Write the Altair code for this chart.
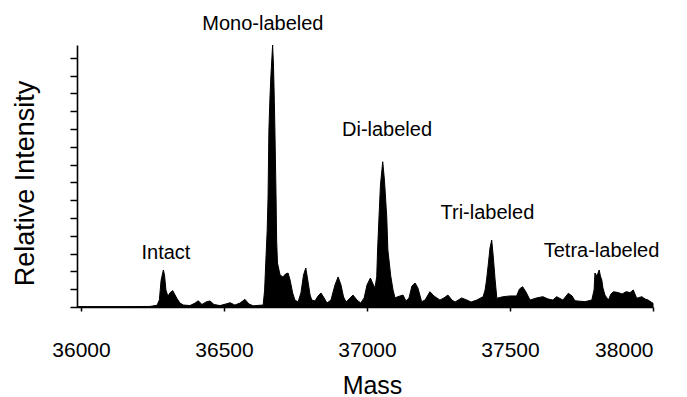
import altair as alt
import pandas as pd

# Spectrum: mass (Da) and relative intensity (tick units)
mass = [35986, 36136, 36241, 36266, 36274, 36280, 36288, 36292, 36297, 36304,
        36311, 36321, 36327, 36335, 36346, 36358, 36381, 36399, 36410, 36423,
        36437, 36451, 36465, 36486, 36507, 36521, 36538, 36556, 36573, 36587,
        36602, 36637, 36642, 36646, 36651, 36654, 36657, 36661, 36664, 36670,
        36673, 36676, 36678, 36682, 36684, 36687, 36696, 36706, 36715, 36724,
        36731, 36740, 36748, 36759, 36769, 36778, 36786, 36794, 36801, 36807,
        36818, 36829, 36839, 36850, 36860, 36874, 36888, 36899, 36909, 36918,
        36927, 36941, 36951, 36965, 36978, 36990, 37000, 37012, 37021, 37028,
        37034, 37037, 37042, 37047, 37055, 37061, 37069, 37073, 37083, 37091,
        37098, 37108, 37126, 37136, 37147, 37157, 37168, 37178, 37191, 37203,
        37220, 37234, 37255, 37269, 37283, 37297, 37308, 37331, 37349, 37364,
        37384, 37406, 37413, 37418, 37425, 37430, 37436, 37441, 37448, 37454,
        37476, 37500, 37523, 37533, 37544, 37556, 37570, 37593, 37615, 37633,
        37650, 37663, 37685, 37704, 37717, 37727, 37762, 37786, 37794, 37797,
        37804, 37812, 37816, 37821, 37825, 37832, 37844, 37853, 37862, 37878,
        37892, 37906, 37920, 37931, 37943, 37961, 37972, 37983, 37993, 38000]
intensity = [0.02, 0.02, 0.03, 0.10, 0.40, 1.50, 2.08, 1.80, 0.95, 0.60,
             0.80, 0.92, 0.73, 0.49, 0.22, 0.11, 0.08, 0.22, 0.35, 0.14,
             0.28, 0.34, 0.14, 0.08, 0.17, 0.24, 0.11, 0.22, 0.43, 0.17,
             0.07, 0.11, 0.95, 2.47, 4.33, 6.18, 9.94, 11.90, 13.00, 14.72,
             13.60, 11.60, 9.94, 6.18, 3.76, 2.47, 1.80, 1.69, 1.85, 1.91,
             1.52, 0.79, 0.39, 0.28, 0.79, 1.80, 2.19, 1.40, 0.67, 0.39,
             0.34, 0.62, 0.79, 0.51, 0.22, 0.39, 1.24, 1.69, 1.24, 0.56,
             0.28, 0.51, 0.67, 0.39, 0.22, 0.51, 1.24, 1.63, 1.29, 1.07,
             1.70, 3.20, 5.06, 6.85, 8.16, 7.13, 5.06, 3.20, 1.74, 0.96,
             0.51, 0.58, 0.67, 0.34, 0.51, 1.18, 1.35, 1.07, 0.30, 0.39,
             0.86, 0.62, 0.39, 0.51, 0.67, 0.39, 0.28, 0.51, 0.39, 0.28,
             0.39, 0.58, 0.96, 1.52, 2.53, 3.31, 3.76, 2.92, 1.52, 0.49,
             0.58, 0.62, 0.62, 1.01, 1.14, 0.84, 0.39, 0.51, 0.58, 0.45,
             0.39, 0.58, 0.39, 0.77, 0.62, 0.35, 0.30, 0.39, 0.96, 1.91,
             1.74, 2.08, 1.74, 1.52, 1.07, 0.67, 0.39, 0.73, 0.86, 0.81,
             0.73, 0.86, 0.81, 0.96, 0.49, 0.58, 0.45, 0.39, 0.28, 0.21]

# Peak annotations
label_text = ["Intact", "Mono-labeled", "Di-labeled", "Tri-labeled", "Tetra-labeled"]
label_mass = [36297, 36636, 37070, 37421, 37820]
label_level = [2.72, 15.56, 9.62, 4.92, 2.80]

x_ticks = [36000, 36500, 37000, 37500, 38000]
y_ticks = [float(v) for v in range(0, 15)]

spec = pd.DataFrame({"mass": mass, "intensity": intensity})
labels = pd.DataFrame({"text": label_text, "mass": label_mass, "level": label_level})

xscale = alt.Scale(domain=[35986, 38000], nice=False, zero=False)
yscale = alt.Scale(domain=[0, 14.72], nice=False)

xaxis = alt.Axis(
    values=x_ticks, format="d", title="Mass", grid=False,
    tickSize=4, labelPadding=28, labelFontSize=21, labelFont="Liberation Sans",
    labelColor="black", domainColor="black", tickColor="black",
    domainWidth=1.6, tickWidth=1.5,
    titleFont="Liberation Sans", titleFontSize=25, titleFontWeight="normal",
    titleColor="black", titleX=295, titleY=86, titleAlign="center",
    titleBaseline="alphabetic")
yaxis = alt.Axis(
    values=y_ticks, labels=False, title="Relative Intensity",
    grid=False, tickSize=7, domainColor="black", tickColor="black",
    domainWidth=1.6, tickWidth=1.5,
    titleFont="Liberation Sans", titleFontSize=27, titleFontWeight="normal",
    titleColor="black", titleAngle=-90, titleX=-44, titleY=138,
    titleAlign="center", titleBaseline="alphabetic")

area = alt.Chart(spec).mark_area(
    color="black", stroke="black", strokeWidth=1, interpolate="linear"
).encode(
    x=alt.X("mass:Q", scale=xscale, axis=xaxis),
    y=alt.Y("intensity:Q", scale=yscale, axis=yaxis),
)

text = alt.Chart(labels).mark_text(
    font="Liberation Sans", fontSize=20, color="black",
    align="center", baseline="alphabetic", clip=False
).encode(
    x=alt.X("mass:Q", scale=xscale, axis=xaxis),
    y=alt.Y("level:Q", scale=yscale, axis=yaxis),
    text="text:N",
)

chart = alt.layer(area, text).properties(
    width=576, height=262,
    background="white",
    autosize=alt.AutoSizeParams(type="none"),
    padding={"left": 69, "top": 37, "right": 20, "bottom": 90},
).configure_view(strokeWidth=0, stroke=None)

chart.save("out.html", embed_options={"renderer": "svg", "actions": False})
